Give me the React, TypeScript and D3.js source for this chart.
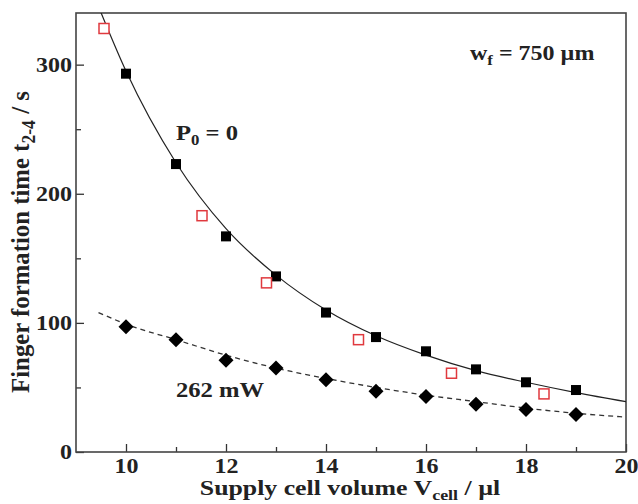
import React, { useEffect, useRef } from 'react';
import * as d3 from 'd3';

// measured points, V_cell (µl) -> t_2-4 (s)
const blackVolumes = [10, 11, 12, 13, 14, 15, 16, 17, 18, 19];
const blackTimes = [293, 223, 167, 136, 108, 89, 78, 64, 54, 48];

const redVolumes = [9.56, 11.52, 12.81, 14.65, 16.51, 18.36];
const redTimes = [328, 183, 131, 87, 61, 45];

const diamondVolumes = [10, 11, 12, 13, 14, 15, 16, 17, 18, 19];
const diamondTimes = [97, 87, 71, 65, 56, 47, 43, 37, 33, 29];

// fit curves
const fitVolumes = [9.45, 10, 11, 12, 13, 14, 15, 16, 17, 18, 19, 20];
const fitTimesP0 = [345, 295, 224, 173, 137, 110, 90, 75, 63, 54, 46, 39];
const fitTimes262 = [108, 99, 87, 75, 65, 57, 50, 44, 39, 34, 30, 27];

const xTicks = [10, 12, 14, 16, 18, 20];
const xMinorTicks = [11, 13, 15, 17, 19];
const yTicks = [0, 100, 200, 300];
const yMinorTicks = [50, 150, 250];

const FONT = '"Liberation Serif", "Times New Roman", serif';
// the original figure's lettering is a bit wider than it is tall
const SX = 1.2;

export default function App() {
  const ref = useRef<SVGGElement>(null);
  const width = 638;
  const height = 504;

  useEffect(() => {
    const margin = { top: 13, right: 12, bottom: 52, left: 76 };
    const innerW = width - margin.left - margin.right;
    const innerH = height - margin.top - margin.bottom;

    const root = d3.select(ref.current);
    root.selectAll('*').remove();

    const x = d3.scaleLinear().domain([9, 20]).range([0, innerW]);
    const y = d3.scaleLinear().domain([0, 340]).range([innerH, 0]);

    root
      .append('defs')
      .append('clipPath')
      .attr('id', 'plot-clip')
      .append('rect')
      .attr('width', innerW)
      .attr('height', innerH);

    const g = root
      .append('g')
      .attr('transform', `translate(${margin.left},${margin.top})`);

    // axes (ticks point inward)
    const xAxis = g
      .append('g')
      .attr('transform', `translate(0,${innerH})`)
      .call(
        d3.axisBottom(x).tickValues(xTicks).tickSizeInner(-8).tickSizeOuter(0).tickPadding(7)
      );
    g.append('g')
      .attr('transform', `translate(0,${innerH})`)
      .call(
        d3.axisBottom(x).tickValues(xMinorTicks).tickSizeInner(-5).tickSizeOuter(0).tickFormat(() => '')
      );
    const yAxis = g
      .append('g')
      .call(d3.axisLeft(y).tickValues(yTicks).tickSizeInner(-8).tickSizeOuter(0).tickPadding(4));
    g.append('g').call(
      d3.axisLeft(y).tickValues(yMinorTicks).tickSizeInner(-5).tickSizeOuter(0).tickFormat(() => '')
    );

    g.selectAll('.domain').remove();
    g.selectAll('.tick line').attr('stroke', '#333').attr('stroke-width', 1.3);
    [xAxis, yAxis].forEach(a =>
      a
        .selectAll('text')
        .attr('font-family', FONT)
        .attr('font-weight', 'bold')
        .attr('font-size', 20)
        .attr('fill', '#222')
    );
    xAxis.selectAll('text').attr('transform', `scale(${SX},1)`);
    yAxis.selectAll('text').attr('x', 0).attr('transform', `translate(-4,0) scale(${SX},1)`);

    // frame
    g.append('rect')
      .attr('width', innerW)
      .attr('height', innerH)
      .attr('fill', 'none')
      .attr('stroke', '#444')
      .attr('stroke-width', 1.6);

    const plot = g.append('g').attr('clip-path', 'url(#plot-clip)');

    const line = d3
      .line<number>()
      .x((_, i) => x(fitVolumes[i]))
      .y(d => y(d))
      .curve(d3.curveMonotoneX);

    plot
      .append('path')
      .attr('d', line(fitTimesP0))
      .attr('fill', 'none')
      .attr('stroke', '#222')
      .attr('stroke-width', 1.2);

    plot
      .append('path')
      .attr('d', line(fitTimes262))
      .attr('fill', 'none')
      .attr('stroke', '#333')
      .attr('stroke-width', 1.3)
      .attr('stroke-dasharray', '5,4');

    // black filled squares
    const sq = 10;
    g.append('g')
      .selectAll('rect')
      .data(blackTimes)
      .join('rect')
      .attr('x', (_, i) => x(blackVolumes[i]) - sq / 2)
      .attr('y', d => y(d) - sq / 2)
      .attr('width', sq)
      .attr('height', sq)
      .attr('fill', '#000');

    // red open squares
    const rs = 10;
    g.append('g')
      .selectAll('rect')
      .data(redTimes)
      .join('rect')
      .attr('x', (_, i) => x(redVolumes[i]) - rs / 2)
      .attr('y', d => y(d) - rs / 2)
      .attr('width', rs)
      .attr('height', rs)
      .attr('fill', '#fff')
      .attr('stroke', '#e0393e')
      .attr('stroke-width', 1.5);

    // diamonds
    const dm = 7.5;
    g.append('g')
      .selectAll('path')
      .data(diamondTimes)
      .join('path')
      .attr('transform', (d, i) => `translate(${x(diamondVolumes[i])},${y(d)})`)
      .attr('d', `M0,${-dm}L${dm},0L0,${dm}L${-dm},0Z`)
      .attr('fill', '#000');
  }, []);

  const bold = { fontFamily: FONT, fontWeight: 'bold' as const, fill: '#222' };

  return (
    <svg
      width={width}
      height={height}
      style={{ position: 'absolute', left: 0, top: 0, background: '#fff' }}
    >
      <g ref={ref} />
      <text transform={`translate(470,60) scale(${SX},1)`} fontSize={20} {...bold}>
        w<tspan fontSize={14} dy={5}>f</tspan>
        <tspan dy={-5}> = 750 µm</tspan>
      </text>
      <text transform={`translate(176,140) scale(${SX},1)`} fontSize={20.5} {...bold}>
        P<tspan fontSize={14} dy={5}>0</tspan>
        <tspan dy={-5}> = 0</tspan>
      </text>
      <text transform={`translate(176,397) scale(${SX},1)`} fontSize={20.5} {...bold}>
        262 mW
      </text>
      <text
        transform={`translate(350,495) scale(${SX},1)`}
        fontSize={21.5}
        textAnchor="middle"
        {...bold}
      >
        Supply cell volume V<tspan fontSize={15} dy={5}>cell</tspan>
        <tspan dy={-5}> / µl</tspan>
      </text>
      <text
        transform={`translate(29,242) scale(${SX},1) rotate(-90) scale(1.18,1)`}
        fontSize={21}
        textAnchor="middle"
        {...bold}
      >
        Finger formation time t<tspan fontSize={15} dy={5}>2-4</tspan>
        <tspan dy={-5}> / s</tspan>
      </text>
    </svg>
  );
}
